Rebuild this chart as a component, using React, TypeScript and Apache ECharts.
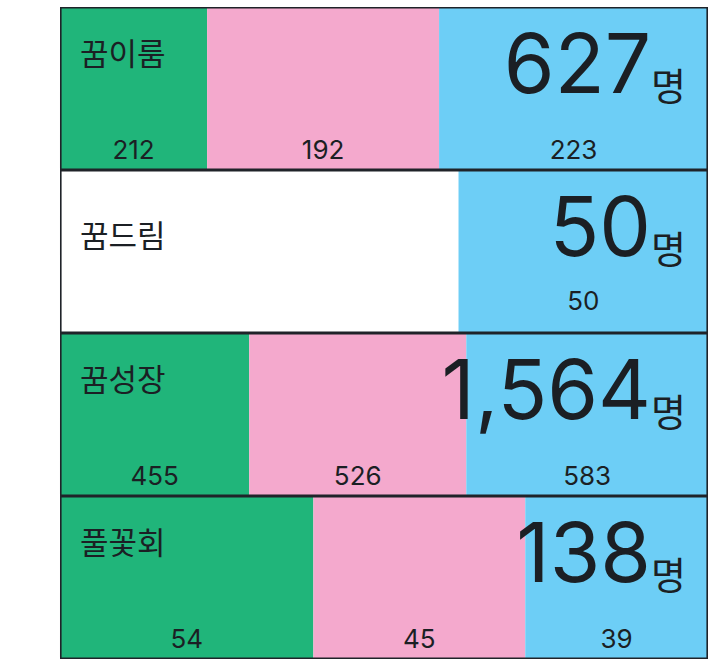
import React, { useEffect, useRef } from "react";
import * as echarts from "echarts";

// Row names (top to bottom)
const rows = ["꿈이룸", "꿈드림", "꿈성장", "풀꽃회"];
// Counts shown on each segment
const greenCounts = [212, 0, 455, 54];
const pinkCounts = [192, 0, 526, 45];
const blueCounts = [223, 50, 583, 39];
// Row totals (people)
const totals = [627, 50, 1564, 138];
// Drawn width of each segment, % of the row
const greenShare = [22.7, 0, 29.2, 39.1];
const pinkShare = [35.8, 0, 33.5, 32.7];
const gapShare = [0, 61.5, 0, 0];
const blueShare = [41.5, 38.5, 37.3, 28.2];
const fullRow = [100, 100, 100, 100];

const TEXT = "#1b1f24";
const FONT = "Inter, 'Noto Sans CJK KR', sans-serif";

export default function App() {
  const ref = useRef<HTMLDivElement>(null);
  useEffect(() => {
    if (!ref.current) return;
    const chart = echarts.init(ref.current, undefined, { renderer: "svg" });

    const valueLabel = (counts: number[]) => ({
      show: true,
      position: ["50%", 142] as any,
      align: "center",
      verticalAlign: "middle",
      fontSize: 26,
      fontFamily: FONT,
      color: TEXT,
      formatter: (p: any) => (counts[p.dataIndex] ? String(counts[p.dataIndex]) : ""),
    });

    const segData = (shares: number[]) =>
      shares.map((v, i) =>
        i === 1 ? { value: v, label: { position: ["50%", 130] } } : v
      );

    const common = {
      type: "bar",
      barCategoryGap: 0,
      barGap: "-100%",
    };

    chart.setOption({
      animation: false,
      grid: { left: 60, right: 5, top: 7, bottom: 10 },
      xAxis: { type: "value", min: 0, max: 100, show: false },
      yAxis: {
        type: "category",
        data: rows,
        inverse: true,
        show: false,
      },
      series: [
        {
          ...common,
          name: "green",
          stack: "a",
          data: segData(greenShare),
          itemStyle: { color: "#20b57a" },
          label: valueLabel(greenCounts),
        },
        {
          ...common,
          name: "pink",
          stack: "a",
          data: segData(pinkShare),
          itemStyle: { color: "#f4a9cd" },
          label: valueLabel(pinkCounts),
        },
        {
          ...common,
          name: "gap",
          stack: "a",
          silent: true,
          data: gapShare,
          itemStyle: { color: "rgba(0,0,0,0)" },
        },
        {
          ...common,
          name: "blue",
          stack: "a",
          data: segData(blueShare),
          itemStyle: { color: "#6dcef6" },
          label: valueLabel(blueCounts),
        },
        {
          ...common,
          name: "frame",
          silent: true,
          data: fullRow.map((v, i) =>
            i === 1 ? { value: v, label: { position: [20, 65] } } : v
          ),
          itemStyle: { color: "rgba(0,0,0,0)", borderColor: "#1f2329", borderWidth: 1.6 },
          label: {
            show: true,
            position: [20, 46] as any,
            align: "left",
            verticalAlign: "middle",
            fontSize: 31,
            fontFamily: FONT,
            color: TEXT,
            formatter: (p: any) => rows[p.dataIndex],
          },
        },
        {
          ...common,
          name: "total",
          silent: true,
          data: fullRow,
          itemStyle: { color: "rgba(0,0,0,0)" },
          label: {
            show: true,
            position: ["100%", 97.8] as any,
            offset: [-22, 0],
            align: "right",
            verticalAlign: "bottom",
            fontFamily: FONT,
            color: TEXT,
            formatter: (p: any) =>
              "{big|" + totals[p.dataIndex].toLocaleString("en-US") + "}{unit|명}",
            rich: {
              big: {
                fontSize: 82,
                lineHeight: 82,
                verticalAlign: "bottom",
                fontFamily: FONT,
                color: TEXT,
              },
              unit: {
                fontSize: 38,
                lineHeight: 57,
                verticalAlign: "bottom",
                fontFamily: FONT,
                color: TEXT,
              },
            },
          },
        },
      ],
    });
    return () => chart.dispose();
  }, []);
  return (
    <div
      ref={ref}
      style={{ position: "fixed", left: 0, top: 0, width: 713, height: 669, background: "#fff" }}
    />
  );
}
